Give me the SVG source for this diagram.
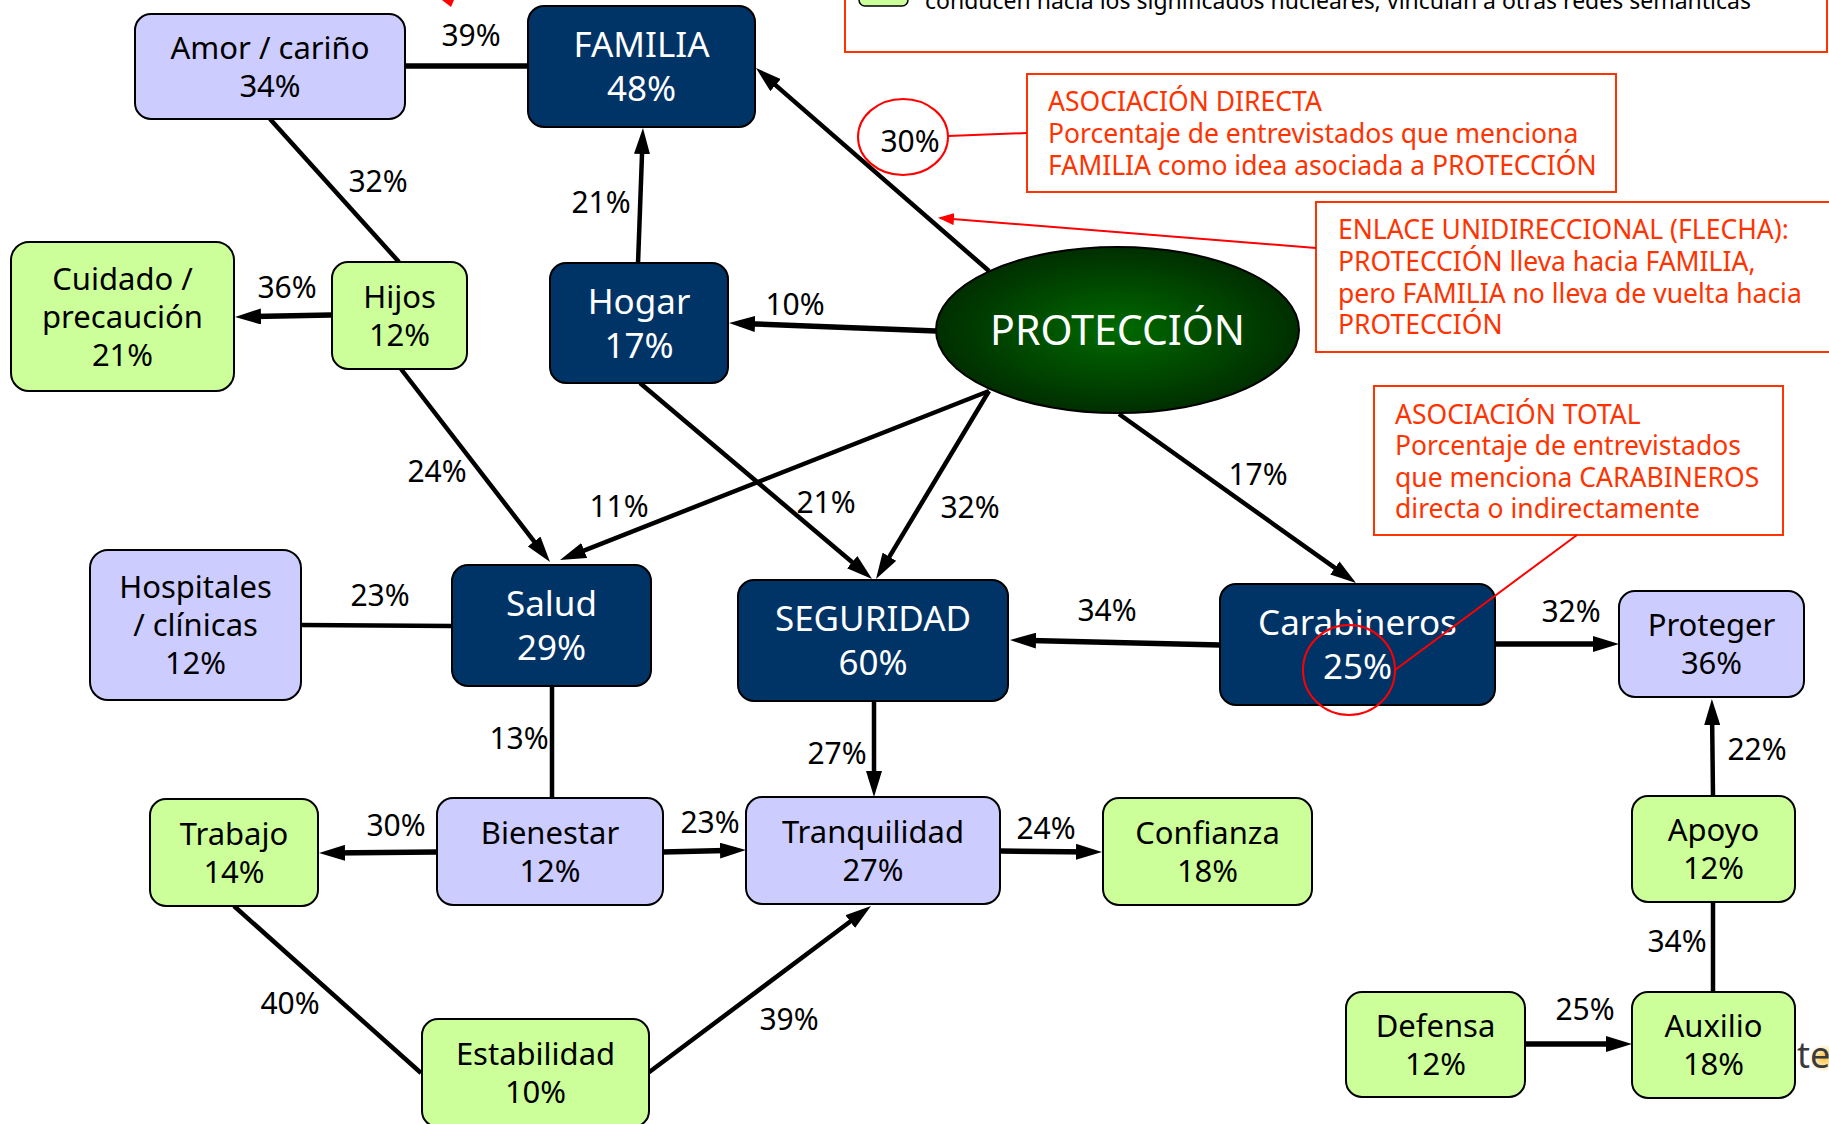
<svg xmlns="http://www.w3.org/2000/svg" width="1829" height="1124" viewBox="0 0 1829 1124">
<style>
text{font-family:"Noto Sans","DejaVu Sans",sans-serif}
.lav{fill:#CCCCFF;stroke:#000;stroke-width:2}
.grn{fill:#CCFF99;stroke:#000;stroke-width:2}
.dk{fill:#003366;stroke:#000;stroke-width:2}
.t{font-size:31px;fill:#000;text-anchor:middle}
.tw{font-size:35px;fill:#fff;text-anchor:middle}
.lbl{font-size:30px;fill:#000;text-anchor:middle}
.ann{font-size:26.5px;fill:#FF3300}
.abox{fill:#fff;stroke:#FF3300;stroke-width:2}
.ln{stroke:#000;stroke-width:4.5;fill:none}
.lnt{stroke:#000;stroke-width:5.5;fill:none}
.arr{marker-end:url(#ah)}
.red{stroke:#FF0000;stroke-width:2;fill:none}
</style>
<defs>
<marker id="ah" viewBox="0 0 26 16" refX="16" refY="8" markerWidth="26" markerHeight="16" markerUnits="userSpaceOnUse" orient="auto">
<path d="M0,0 L26,8 L0,16 Z" fill="#000"/>
</marker>
<marker id="rah" viewBox="0 0 16 12" refX="14" refY="6" markerWidth="16" markerHeight="12" markerUnits="userSpaceOnUse" orient="auto">
<path d="M0,0 L16,6 L0,12 Z" fill="#FF0000"/>
</marker>
<radialGradient id="eg" cx="50%" cy="50%" r="50%">
<stop offset="0" stop-color="#006A00"/>
<stop offset="1" stop-color="#002E00"/>
</radialGradient>
<radialGradient id="og" cx="50%" cy="50%" r="50%">
<stop offset="0" stop-color="#FFB000" stop-opacity="0.8"/>
<stop offset="1" stop-color="#FFB000" stop-opacity="0"/>
</radialGradient>
</defs>
<rect width="1829" height="1124" fill="#fff"/>

<g id="legend">
<rect class="abox" x="845" y="-10" width="982" height="62"/>
<rect x="859" y="-20" width="49" height="26" rx="6" fill="#CCFF99" stroke="#000" stroke-width="1.5"/>
<text x="925" y="9" font-size="24" fill="#000" textLength="826" lengthAdjust="spacingAndGlyphs">conducen hacia los significados nucleares; vinculan a otras redes semánticas</text>
</g>
<polygon points="442,0 454,0 451,7" fill="#FF0000"/>

<g id="connectors">
<line class="lnt" x1="405" y1="66" x2="528" y2="66"/>
<line class="ln arr" x1="989" y1="271" x2="763.5" y2="74.6"/>
<line class="ln arr" x1="638" y1="264" x2="642.6" y2="138"/>
<line class="ln" x1="270" y1="119" x2="399" y2="262"/>
<line class="lnt arr" x1="331" y1="315" x2="245" y2="316.8"/>
<line class="lnt arr" x1="936" y1="331" x2="739" y2="323.4"/>
<line class="ln arr" x1="401" y1="369" x2="543.9" y2="554.1"/>
<line class="ln arr" x1="989" y1="391" x2="569.3" y2="556.3"/>
<line class="ln arr" x1="640" y1="383" x2="864.4" y2="572.5"/>
<line class="ln arr" x1="989" y1="391" x2="881.2" y2="570.4"/>
<line class="ln arr" x1="1119" y1="414" x2="1347.9" y2="577.2"/>
<line class="lnt arr" x1="1220" y1="645" x2="1020" y2="640.2"/>
<line class="lnt arr" x1="1495" y1="644" x2="1609" y2="644"/>
<line class="ln" x1="301" y1="625" x2="452" y2="626"/>
<line class="ln" x1="552" y1="686" x2="552" y2="798"/>
<line class="ln arr" x1="874" y1="701" x2="874" y2="787"/>
<line class="lnt arr" x1="437" y1="852" x2="329" y2="853"/>
<line class="lnt arr" x1="663" y1="852" x2="736" y2="850.2"/>
<line class="lnt arr" x1="1000" y1="851" x2="1092" y2="852"/>
<line class="ln" x1="234" y1="906" x2="421" y2="1073"/>
<line class="ln arr" x1="648" y1="1073" x2="863" y2="912"/>
<line class="ln arr" x1="1713" y1="796" x2="1712" y2="709"/>
<line class="ln" x1="1713" y1="902" x2="1713" y2="992"/>
<line class="lnt arr" x1="1525" y1="1044" x2="1622" y2="1044"/>
</g>

<g id="edge-labels">
<text class="lbl" x="471" y="46">39%</text>
<text class="lbl" x="378" y="192">32%</text>
<text class="lbl" x="601" y="213">21%</text>
<text class="lbl" x="287" y="298">36%</text>
<text class="lbl" x="795" y="315">10%</text>
<text class="lbl" x="910" y="152">30%</text>
<text class="lbl" x="437" y="482">24%</text>
<text class="lbl" x="619" y="517">11%</text>
<text class="lbl" x="826" y="513">21%</text>
<text class="lbl" x="970" y="518">32%</text>
<text class="lbl" x="1258" y="485">17%</text>
<text class="lbl" x="380" y="606">23%</text>
<text class="lbl" x="1107" y="621">34%</text>
<text class="lbl" x="1571" y="622">32%</text>
<text class="lbl" x="519" y="749">13%</text>
<text class="lbl" x="837" y="764">27%</text>
<text class="lbl" x="396" y="836">30%</text>
<text class="lbl" x="710" y="833">23%</text>
<text class="lbl" x="1046" y="839">24%</text>
<text class="lbl" x="1757" y="760">22%</text>
<text class="lbl" x="1677" y="952">34%</text>
<text class="lbl" x="1585" y="1020">25%</text>
<text class="lbl" x="290" y="1014">40%</text>
<text class="lbl" x="789" y="1030">39%</text>
</g>

<g id="amor"><rect class="lav" x="135" y="14" width="270" height="105" rx="16"/><text class="t" x="270" y="59">Amor / cariño</text><text class="t" x="270" y="97">34%</text></g>
<g id="familia"><rect class="dk" x="528" y="6" width="227" height="121" rx="16"/><text class="tw" x="641.5" y="57">FAMILIA</text><text class="tw" x="641.5" y="101">48%</text></g>
<g id="hogar"><rect class="dk" x="550" y="263" width="178" height="120" rx="16"/><text class="tw" x="639" y="313.5">Hogar</text><text class="tw" x="639" y="357.5">17%</text></g>
<g id="cuidado"><rect class="grn" x="11" y="242" width="223" height="149" rx="18"/><text class="t" x="122.5" y="289.5">Cuidado /</text><text class="t" x="122.5" y="327.5">precaución</text><text class="t" x="122.5" y="365.5">21%</text></g>
<g id="hijos"><rect class="grn" x="332" y="262" width="135" height="107" rx="16"/><text class="t" x="399.5" y="307.5">Hijos</text><text class="t" x="399.5" y="345.5">12%</text></g>
<g id="proteccion"><ellipse cx="1117.5" cy="330" rx="181.5" ry="83" fill="url(#eg)" stroke="#000" stroke-width="2"/><text x="1117.5" y="345" font-size="41" fill="#fff" text-anchor="middle">PROTECCIÓN</text></g>
<g id="salud"><rect class="dk" x="452" y="565" width="199" height="121" rx="16"/><text class="tw" x="551.5" y="616">Salud</text><text class="tw" x="551.5" y="660">29%</text></g>
<g id="hospitales"><rect class="lav" x="90" y="550" width="211" height="150" rx="18"/><text class="t" x="195.5" y="598">Hospitales</text><text class="t" x="195.5" y="636">/ clínicas</text><text class="t" x="195.5" y="674">12%</text></g>
<g id="seguridad"><rect class="dk" x="738" y="580" width="270" height="121" rx="16"/><text class="tw" x="873" y="631">SEGURIDAD</text><text class="tw" x="873" y="675">60%</text></g>
<g id="carabineros"><rect class="dk" x="1220" y="584" width="275" height="121" rx="16"/><text class="tw" x="1357.5" y="635">Carabineros</text><text class="tw" x="1357.5" y="679">25%</text></g>
<g id="proteger"><rect class="lav" x="1619" y="591" width="185" height="106" rx="16"/><text class="t" x="1711.5" y="636">Proteger</text><text class="t" x="1711.5" y="674">36%</text></g>
<g id="bienestar"><rect class="lav" x="437" y="798" width="226" height="107" rx="16"/><text class="t" x="550" y="843.5">Bienestar</text><text class="t" x="550" y="881.5">12%</text></g>
<g id="trabajo"><rect class="grn" x="150" y="799" width="168" height="107" rx="16"/><text class="t" x="234" y="844.5">Trabajo</text><text class="t" x="234" y="882.5">14%</text></g>
<g id="tranquilidad"><rect class="lav" x="746" y="797" width="254" height="107" rx="16"/><text class="t" x="873" y="842.5">Tranquilidad</text><text class="t" x="873" y="880.5">27%</text></g>
<g id="estabilidad"><rect class="grn" x="422" y="1019" width="227" height="108" rx="16"/><text class="t" x="535.5" y="1065">Estabilidad</text><text class="t" x="535.5" y="1103">10%</text></g>
<g id="confianza"><rect class="grn" x="1103" y="798" width="209" height="107" rx="16"/><text class="t" x="1207.5" y="843.5">Confianza</text><text class="t" x="1207.5" y="881.5">18%</text></g>
<g id="apoyo"><rect class="grn" x="1632" y="796" width="163" height="106" rx="16"/><text class="t" x="1713.5" y="841">Apoyo</text><text class="t" x="1713.5" y="879">12%</text></g>
<g id="defensa"><rect class="grn" x="1346" y="992" width="179" height="105" rx="16"/><text class="t" x="1435.5" y="1036.5">Defensa</text><text class="t" x="1435.5" y="1074.5">12%</text></g>
<g id="auxilio"><rect class="grn" x="1632" y="992" width="163" height="106" rx="16"/><text class="t" x="1713.5" y="1037">Auxilio</text><text class="t" x="1713.5" y="1075">18%</text></g>

<g id="annotations">
<rect class="abox" x="1027" y="74" width="589" height="118"/>
<text class="ann" x="1048" y="111">ASOCIACIÓN DIRECTA</text>
<text class="ann" x="1048" y="143">Porcentaje de entrevistados que menciona</text>
<text class="ann" x="1048" y="175">FAMILIA como idea asociada a PROTECCIÓN</text>
<ellipse class="red" cx="903" cy="137" rx="45" ry="38"/>
<line class="red" x1="948" y1="136" x2="1027" y2="133"/>

<rect class="abox" x="1316" y="202" width="530" height="150"/>
<text class="ann" x="1338" y="239">ENLACE UNIDIRECCIONAL (FLECHA):</text>
<text class="ann" x="1338" y="271">PROTECCIÓN lleva hacia FAMILIA,</text>
<text class="ann" x="1338" y="303">pero FAMILIA no lleva de vuelta hacia</text>
<text class="ann" x="1338" y="334">PROTECCIÓN</text>
<line class="red" x1="1316" y1="248" x2="940" y2="218" marker-end="url(#rah)"/>

<rect class="abox" x="1374" y="386" width="409" height="149"/>
<text class="ann" x="1395" y="424">ASOCIACIÓN TOTAL</text>
<text class="ann" x="1395" y="455">Porcentaje de entrevistados</text>
<text class="ann" x="1395" y="487">que menciona CARABINEROS</text>
<text class="ann" x="1395" y="518">directa o indirectamente</text>
<ellipse class="red" cx="1349" cy="670" rx="46" ry="45"/>
<line class="red" x1="1395" y1="670" x2="1577" y2="535"/>
</g>

<g id="logo-fragment">
<circle cx="1824" cy="1058" r="14" fill="url(#og)"/>
<text x="1797" y="1068" font-size="36" fill="#3a3a3a">te</text>
</g>
</svg>
